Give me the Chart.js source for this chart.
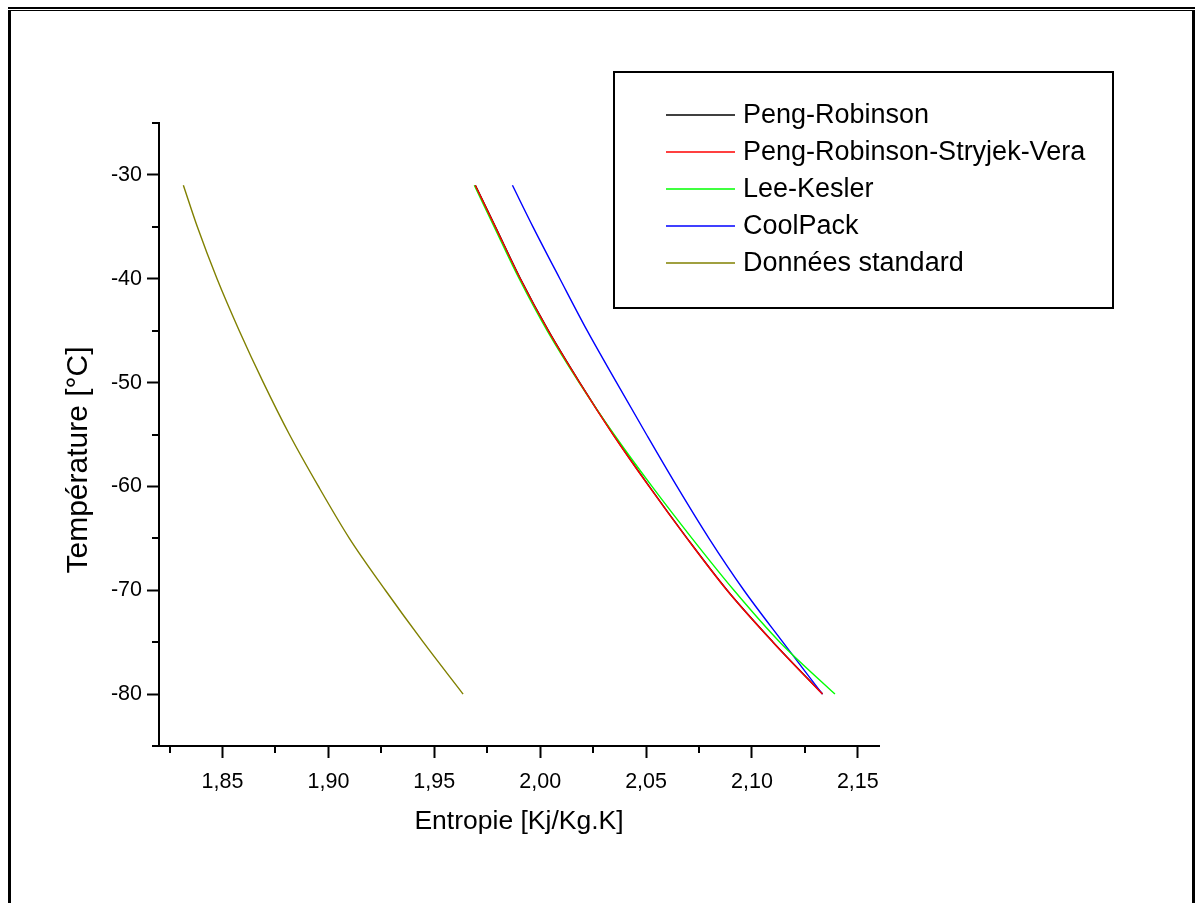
<!DOCTYPE html>
<html>
<head>
<meta charset="utf-8">
<script src="https://cdn.jsdelivr.net/npm/chart.js@4.4.1/dist/chart.umd.min.js"></script>
<style>
  html, body { margin: 0; padding: 0; background: #fff; }
</style>
</head>
<body>
<canvas id="entropyChart" width="1195" height="903"></canvas>
<script>
// Temperatures [°C] shared by every curve
const temperatures = [-31, -35, -40, -45, -50, -55, -60, -65, -70, -75, -80];

// Entropy [kJ/kg.K]
const pengRobinson = [1.9694, 1.9789, 1.9907, 2.0039, 2.0187, 2.0345, 2.0515, 2.0694, 2.0883, 2.1100, 2.1334];
const pengRobinsonSV = [1.9693, 1.9788, 1.9906, 2.0038, 2.0186, 2.0344, 2.0514, 2.0693, 2.0882, 2.1099, 2.1333];
const leeKesler = [1.9689, 1.9783, 1.9901, 2.0033, 2.0184, 2.0349, 2.0528, 2.0717, 2.0915, 2.1132, 2.1392];
const coolPack = [1.9869, 1.9966, 2.0093, 2.0222, 2.0361, 2.0502, 2.0646, 2.0797, 2.0962, 2.1146, 2.1333];
const standardData = [1.8315, 1.8381, 1.8474, 1.8579, 1.8693, 1.8816, 1.8953, 1.9099, 1.9269, 1.9448, 1.9636];

// Axis ticks
const xTicks = [1.85, 1.90, 1.95, 2.00, 2.05, 2.10, 2.15];
const xMinorTicks = [1.825, 1.875, 1.925, 1.975, 2.025, 2.075, 2.125];
const yTicks = [-80, -70, -60, -50, -40, -30];
const yMinorTicks = [-85, -75, -65, -55, -45, -35, -25];

const FONT = '"Liberation Sans", Arial, sans-serif';

const toPoints = (xs) => xs.map((x, i) => ({ x, y: temperatures[i] }));

const makeSeries = (label, values, color, order) => ({
    label,
    data: toPoints(values),
    borderColor: color,
    backgroundColor: color,
    borderWidth: 1.4,
    pointRadius: 0,
    cubicInterpolationMode: 'monotone',
    order
});

// page frame (double line on top)
const framePlugin = {
    id: 'frame',
    afterDraw: (chart) => {
        const { ctx } = chart;
        ctx.save();
        ctx.fillStyle = '#000';
        ctx.fillRect(8, 7, 1187, 2);
        ctx.fillRect(8, 10, 1187, 1);
        ctx.fillRect(8, 10, 3, 893);
        ctx.fillRect(1192, 10, 3, 893);
        ctx.restore();
    }
};

// short minor ticks + rotated y title
const axisExtrasPlugin = {
    id: 'axisExtras',
    afterDraw: (chart) => {
        const { ctx, scales: { x, y } } = chart;
        ctx.save();
        ctx.strokeStyle = '#000';
        ctx.lineWidth = 2;
        ctx.beginPath();
        xMinorTicks.forEach(v => {
            const px = Math.round(x.getPixelForValue(v));
            ctx.moveTo(px, x.top);
            ctx.lineTo(px, x.top + 7);
        });
        yMinorTicks.forEach(v => {
            const py = Math.round(y.getPixelForValue(v));
            ctx.moveTo(y.right, py);
            ctx.lineTo(y.right - 7, py);
        });
        ctx.stroke();

        // y title sits a bit below the axis centre in the original
        ctx.translate(79, 460);
        ctx.rotate(-Math.PI / 2);
        ctx.fillStyle = '#000';
        ctx.font = '30px ' + FONT;
        ctx.textAlign = 'center';
        ctx.textBaseline = 'middle';
        ctx.fillText('Température [°C]', 0, 0);
        ctx.restore();
    }
};

// boxed legend in the upper right
const legendBoxPlugin = {
    id: 'legendBox',
    afterDraw: (chart) => {
        const { ctx } = chart;
        ctx.save();
        ctx.strokeStyle = '#000';
        ctx.lineWidth = 2;
        ctx.strokeRect(614, 72, 499, 236);
        ctx.font = '27px ' + FONT;
        ctx.textBaseline = 'middle';
        ctx.textAlign = 'left';
        chart.data.datasets.forEach((ds, i) => {
            const rowY = 115 + i * 37;
            ctx.strokeStyle = ds.borderColor;
            ctx.lineWidth = 1.5;
            ctx.beginPath();
            ctx.moveTo(666, rowY);
            ctx.lineTo(735, rowY);
            ctx.stroke();
            ctx.fillStyle = '#000';
            ctx.fillText(ds.label, 743, rowY + 1);
        });
        ctx.restore();
    }
};

const fmt = (v) => v.toFixed(2).replace('.', ',');

new Chart(document.getElementById('entropyChart'), {
    type: 'line',
    data: {
        datasets: [
            makeSeries('Peng-Robinson', pengRobinson, '#000000', 1),
            makeSeries('Peng-Robinson-Stryjek-Vera', pengRobinsonSV, '#ff0000', 0),
            makeSeries('Lee-Kesler', leeKesler, '#00ff00', 0),
            makeSeries('CoolPack', coolPack, '#0000ff', 0),
            makeSeries('Données standard', standardData, '#808000', 0)
        ]
    },
    options: {
        responsive: false,
        animation: false,
        layout: { padding: { top: 123, right: 316, left: 0, bottom: 0 } },
        plugins: { legend: { display: false }, tooltip: { enabled: false } },
        scales: {
            x: {
                type: 'linear',
                min: 1.82,
                max: 2.16,
                afterFit: (scale) => { scale.height = 157; },
                afterBuildTicks: (scale) => { scale.ticks = xTicks.map(value => ({ value })); },
                border: { display: true, color: '#000', width: 2 },
                grid: { drawOnChartArea: false, drawTicks: true, tickLength: 12, tickWidth: 2, tickColor: '#000' },
                ticks: {
                    color: '#000',
                    padding: 11,
                    maxRotation: 0,
                    font: { family: FONT, size: 21.5 },
                    callback: (v) => fmt(v)
                },
                title: {
                    display: true,
                    text: 'Entropie [Kj/Kg.K]',
                    color: '#000',
                    font: { family: FONT, size: 26.5 },
                    padding: { top: 0, bottom: 65 }
                }
            },
            y: {
                type: 'linear',
                min: -85,
                max: -25,
                afterFit: (scale) => { scale.width = 159; },
                afterBuildTicks: (scale) => { scale.ticks = yTicks.map(value => ({ value })); },
                border: { display: true, color: '#000', width: 2 },
                grid: { drawOnChartArea: false, drawTicks: true, tickLength: 12, tickWidth: 2, tickColor: '#000' },
                ticks: {
                    color: '#000',
                    padding: 5,
                    font: { family: FONT, size: 21.5 },
                    callback: (v) => String(v)
                },
                title: { display: false }
            }
        }
    },
    plugins: [framePlugin, axisExtrasPlugin, legendBoxPlugin]
});
</script>
</body>
</html>
